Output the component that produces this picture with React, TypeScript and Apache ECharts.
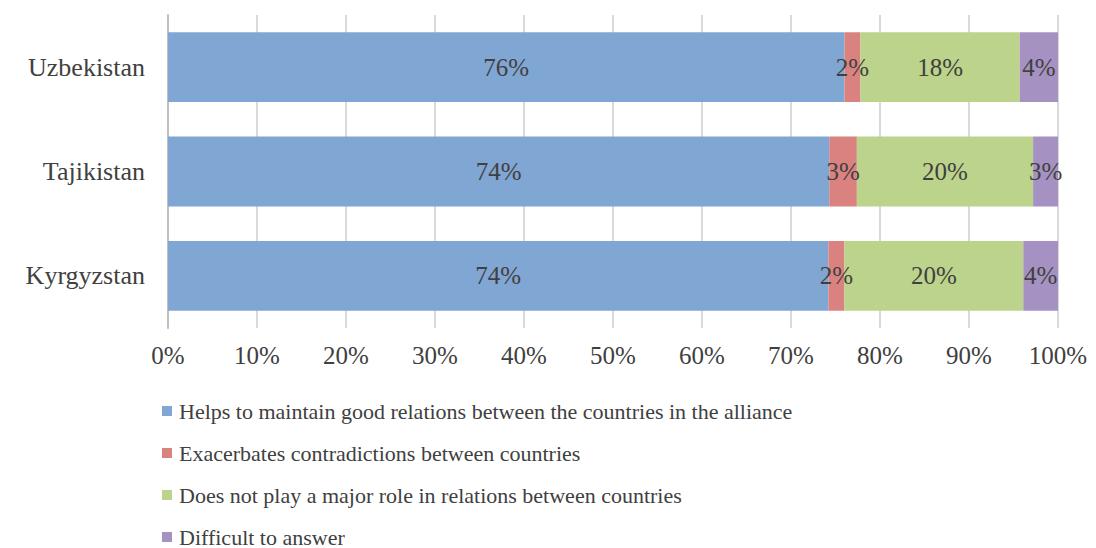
import React, { useEffect, useRef } from "react";
import * as echarts from "echarts";

const countries = ["Kyrgyzstan", "Tajikistan", "Uzbekistan"];
const seriesNames = [
  "Helps to maintain good relations between the countries in the alliance",
  "Exacerbates contradictions between countries",
  "Does not play a major role in relations between countries",
  "Difficult to answer",
];
const helps = [74.2, 74.3, 76.0];
const exacerbates = [1.8, 3.1, 1.8];
const noRole = [20.1, 19.8, 17.9];
const difficult = [3.9, 2.8, 4.3];
const colors = ["#80A6D3", "#DA8280", "#BCD38B", "#A692C2"];
const xTicks = [0, 10, 20, 30, 40, 50, 60, 70, 80, 90, 100];

const FONT = "Liberation Serif";

export default function App() {
  const ref = useRef<HTMLDivElement>(null);
  useEffect(() => {
    if (!ref.current) return;
    const chart = echarts.init(ref.current, null, { renderer: "svg" });
    const values = [helps, exacerbates, noRole, difficult];
    chart.setOption({
      animation: false,
      textStyle: { fontFamily: FONT },
      grid: { left: 168, right: 38, top: 15, bottom: 220, containLabel: false },
      legend: {
        orient: "vertical",
        left: 157,
        top: 395,
        height: 150,
        itemWidth: 10,
        itemHeight: 10,
        itemGap: 20,
        icon: "rect",
        textStyle: { fontFamily: FONT, fontSize: 22, color: "#404040", padding: [0, 0, 0, 2] },
        data: seriesNames,
      },
      xAxis: {
        type: "value",
        min: xTicks[0],
        max: xTicks[xTicks.length - 1],
        interval: 10,
        axisLine: { show: false },
        axisTick: { show: false },
        splitLine: { show: true, lineStyle: { color: "#D9D9D9", width: 2 } },
        axisLabel: {
          formatter: "{value}%",
          fontFamily: FONT,
          fontSize: 25,
          color: "#404040",
          margin: 15,
        },
      },
      yAxis: {
        type: "category",
        data: countries,
        axisLine: { show: true, lineStyle: { color: "#BFBFBF", width: 2 } },
        axisTick: { show: false },
        axisLabel: { fontFamily: FONT, fontSize: 26, color: "#404040", margin: 23 },
      },
      series: seriesNames.map((name, i) => ({
        name,
        type: "bar",
        stack: "total",
        barCategoryGap: "33%",
        data: values[i],
        itemStyle: { color: colors[i] },
        label: {
          show: true,
          position: "inside",
          fontFamily: FONT,
          fontSize: 25,
          color: "#404040",
          formatter: (p: any) => Math.round(p.value) + "%",
        },
      })),
    });
    return () => chart.dispose();
  }, []);
  return <div ref={ref} style={{ width: 1096, height: 548, position: "absolute", left: 0, top: 0 }} />;
}
